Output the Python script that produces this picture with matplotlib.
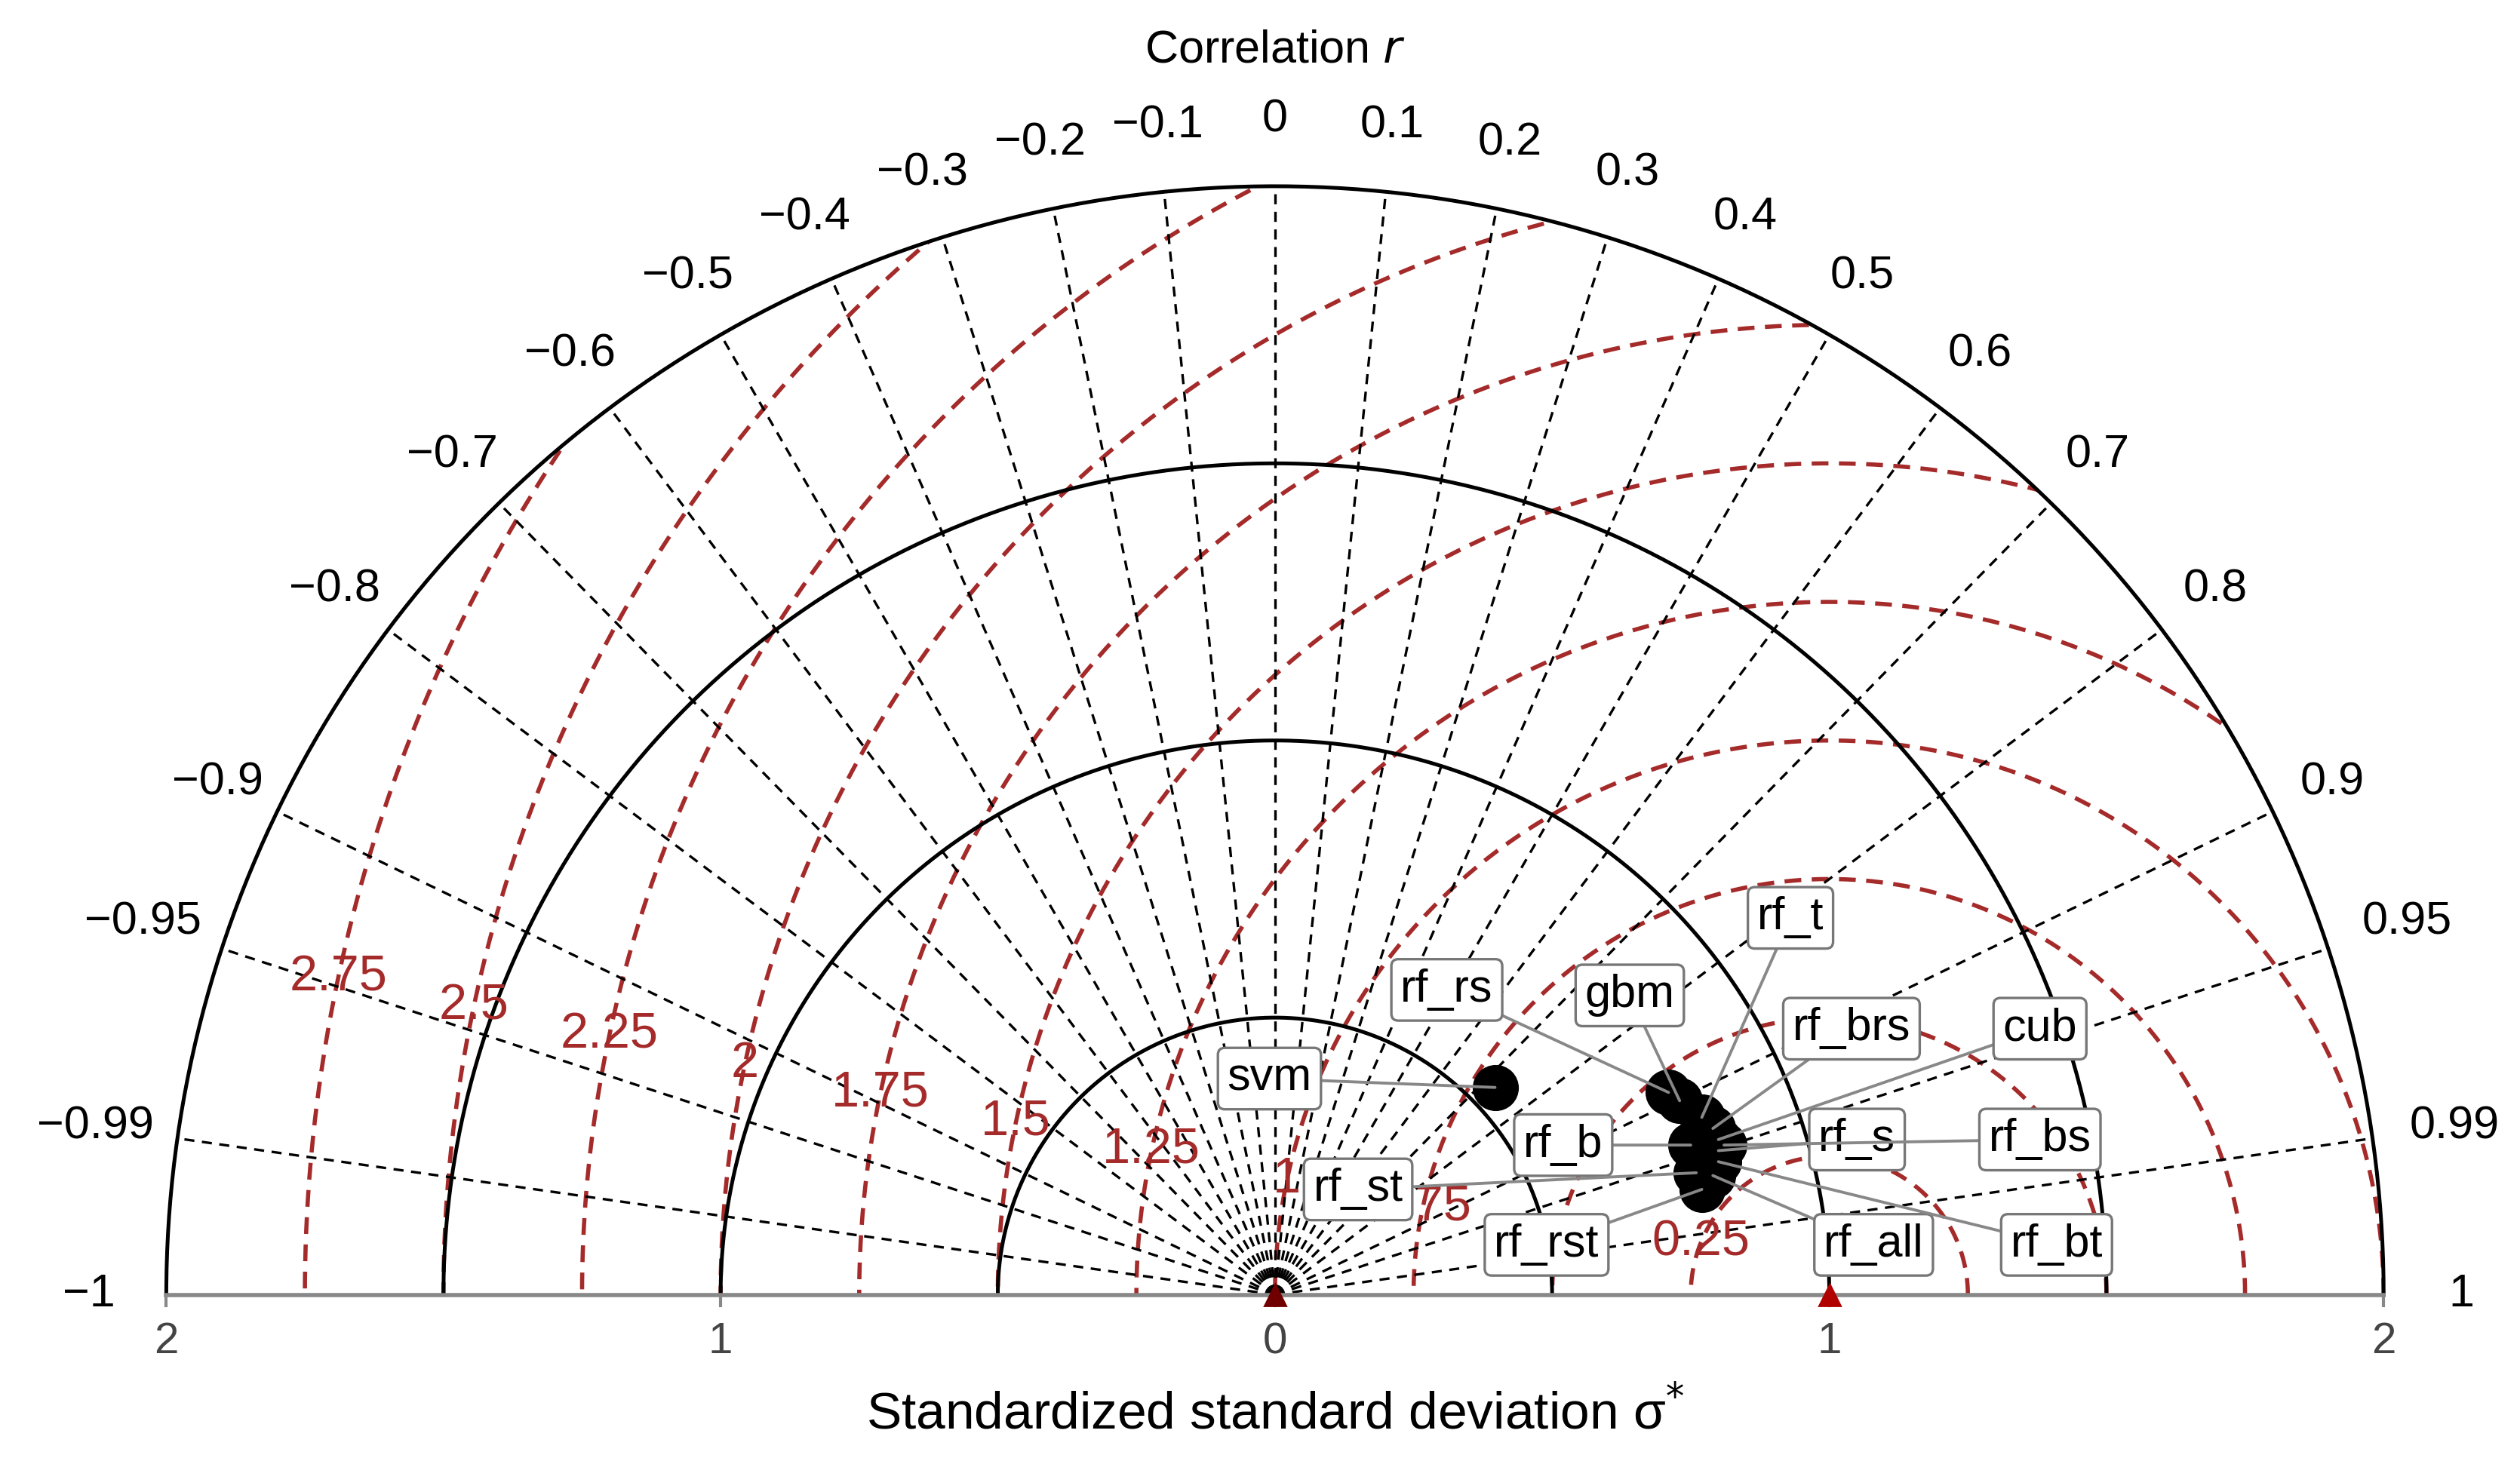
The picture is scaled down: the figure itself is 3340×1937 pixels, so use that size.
import numpy as np
import matplotlib.pyplot as plt
from matplotlib.patches import Wedge

# model results: (standardized sd, correlation)
models = ['svm', 'rf_rs', 'gbm', 'rf_t', 'rf_brs', 'cub', 'rf_s', 'rf_bs',
          'rf_b', 'rf_st', 'rf_rst', 'rf_all', 'rf_bt']
xs = [0.397, 0.710, 0.730, 0.770, 0.790, 0.800, 0.800, 0.810, 0.750, 0.760, 0.770, 0.790, 0.800]
ys = [0.374, 0.365, 0.350, 0.320, 0.300, 0.280, 0.260, 0.270, 0.270, 0.220, 0.190, 0.215, 0.240]
label_x = [-0.01, 0.31, 0.64, 0.93, 1.04, 1.38, 1.05, 1.38, 0.52, 0.15, 0.49, 1.08, 1.41]
label_y = [0.39, 0.55, 0.54, 0.68, 0.48, 0.48, 0.28, 0.28, 0.27, 0.19, 0.09, 0.09, 0.09]

corr_ticks = [0, 0.1, 0.2, 0.3, 0.4, 0.5, 0.6, 0.7, 0.8, 0.9, 0.95, 0.99, 1]
sd_arcs = [0.5, 1, 1.5, 2]
rmsd_levels = [0.25, 0.5, 0.75, 1, 1.25, 1.5, 1.75, 2, 2.25, 2.5, 2.75]
sd_ticks = [-2, -1, 0, 1, 2]
sd_ticklabels = ['2', '1', '0', '1', '2']

plt.rcParams['font.family'] = ['Liberation Sans', 'DejaVu Sans']
fig = plt.figure(figsize=(16.7, 9.685), dpi=200)
ax = fig.add_axes([0, 0, 1, 1])
ax.set_xlim(-2.30, 2.246)
ax.set_ylim(-0.30, 2.336)
ax.axis('off')

red = '#a52a2a'
t = np.linspace(0, np.pi, 400)

# clip region
wedge = Wedge((0, 0), 2, 0, 180, transform=ax.transData, facecolor='none', edgecolor='none')
ax.add_patch(wedge)

# rmsd circles around reference
for r in rmsd_levels:
    tt = np.linspace(0, np.pi, 600)
    line, = ax.plot(1 + r * np.cos(tt), r * np.sin(tt), '--', color=red, lw=2.0, dashes=(4, 2.5))
    line.set_clip_path(wedge)
    ang = np.deg2rad(158 if r == 0.25 else 168)
    ax.text(1 + r * np.cos(ang), r * np.sin(ang), f'{r:g}', color=red, fontsize=24,
            ha='center', va='center', zorder=3)

# radial correlation lines
all_corr = sorted(set([-c for c in corr_ticks] + corr_ticks))
for c in all_corr:
    th = np.arccos(c)
    if abs(c) < 1:
        ax.plot([0, 2 * np.cos(th)], [0, 2 * np.sin(th)], '--', color='black', lw=1.2, dashes=(4, 3))
    lab = f'{c:g}'.replace('-', '\u2212')
    rr = 2.12 if abs(c) < 0.95 else 2.15
    if abs(c) == 1:
        rr = 2.14
    ax.text(rr * np.cos(th), rr * np.sin(th), lab, fontsize=22, ha='center', va='center')

# sd arcs
for r in sd_arcs:
    ax.plot(r * np.cos(t), r * np.sin(t), '-', color='black', lw=1.8)

# baseline axis
ax.plot([-2, 2], [0, 0], color='#888888', lw=2)
for v, s in zip(sd_ticks, sd_ticklabels):
    ax.plot([v, v], [0, -0.02], color='#888888', lw=1.5)
    ax.text(v, -0.085, s, fontsize=21, ha='center', va='center', color='#444444')
ax.text(0, -0.215, 'Standardized standard deviation \u03c3$^{*}$', fontsize=25,
        ha='center', va='center')
ax.text(0, 2.245, 'Correlation $r$', fontsize=22, ha='center', va='center')

# reference markers
ax.plot(1, 0, '^', color='#b00000', ms=10, zorder=5)
ax.plot(0, 0, '^', color='#700000', ms=10, zorder=5)

# models
ax.plot(xs, ys, 'o', color='black', ms=21, zorder=6)
for m, x, y, lx, ly in zip(models, xs, ys, label_x, label_y):
    ax.annotate(m, xy=(x, y), xytext=(lx, ly), fontsize=22, ha='center', va='center', zorder=7,
                bbox=dict(boxstyle='round,pad=0.2,rounding_size=0.15', fc='white', ec='#777777', lw=1.2),
                arrowprops=dict(arrowstyle='-', color='#888888', lw=1.4, shrinkA=0, shrinkB=0))

fig.savefig('out.png', dpi=200)
